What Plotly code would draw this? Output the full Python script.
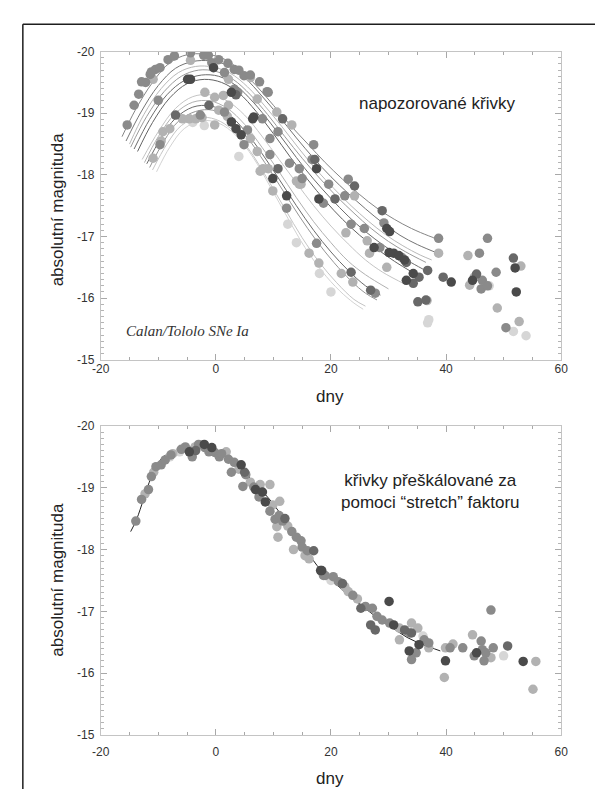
import plotly.graph_objects as go

W, H = 603, 789

curve_x = [
    [-16.3, -14, -11, -8, -5, -2, 1, 4, 7, 10, 13, 16, 19, 22, 25, 28, 31, 34, 37, 38.8],
    [-15.6, -13, -10, -7, -4, -1, 2, 5, 8, 11, 14, 17, 20, 23, 26, 29, 32, 35, 38.8],
    [-15, -12.5, -9.5, -6.5, -3.5, -0.5, 2.5, 5.5, 8.5, 11.5, 14.5, 17.5, 20.5, 23.5, 26.5, 29.5, 32.5, 35.5, 37.5],
    [-14.8, -12, -9, -6, -3, 0, 3, 6, 9, 12, 15, 18, 21, 24, 27, 30, 33, 36.5],
    [-14.2, -11.5, -8.5, -5.5, -2.5, 0.5, 3.5, 6.5, 9.5, 12.5, 15.5, 18.5, 21.5, 24.5, 27.5, 30.5, 33.5, 36],
    [-13.6, -11, -8, -5, -2, 1, 4, 7, 10, 13, 16, 19, 22, 25, 28, 31, 34.5],
    [-12.8, -10, -7, -4, -1, 2, 5, 8, 11, 14, 17, 20, 23, 26, 29, 33],
    [-12.4, -10, -7, -4, -1, 2, 5, 8, 11, 14, 17, 20, 23, 26, 30],
    [-12, -9.5, -7, -4, -1, 2, 5, 8, 11, 14, 17, 20, 23, 26, 28.6],
    [-11.5, -9, -6.5, -3.5, -0.5, 2.5, 5.5, 8.5, 11.5, 14.5, 17.5, 20.5, 23.5, 26, 28],
    [-11, -8.5, -6, -3, 0, 3, 6, 9, 12, 15, 18, 21, 24, 26],
    [-10.3, -8, -5.5, -2.5, 0.5, 3.5, 6.5, 9.5, 12.5, 15.5, 18.5, 21.5, 24, 25.6],
]
curve_y = [
    [-18.62, -19.05, -19.5, -19.82, -19.95, -19.96, -19.9, -19.72, -19.45, -19.13, -18.8, -18.5, -18.2, -17.93, -17.68, -17.46, -17.28, -17.13, -17.01, -16.95],
    [-18.55, -19.02, -19.45, -19.73, -19.84, -19.85, -19.78, -19.58, -19.28, -18.95, -18.6, -18.27, -17.97, -17.7, -17.45, -17.22, -17.02, -16.87, -16.72],
    [-18.5, -18.98, -19.4, -19.66, -19.76, -19.75, -19.65, -19.43, -19.12, -18.78, -18.42, -18.08, -17.78, -17.5, -17.25, -17.03, -16.85, -16.7, -16.62],
    [-18.45, -18.95, -19.35, -19.6, -19.7, -19.68, -19.55, -19.3, -18.98, -18.62, -18.27, -17.95, -17.65, -17.38, -17.13, -16.92, -16.75, -16.58],
    [-18.42, -18.9, -19.3, -19.53, -19.62, -19.6, -19.45, -19.18, -18.84, -18.47, -18.1, -17.77, -17.47, -17.2, -16.97, -16.77, -16.6, -16.47],
    [-18.38, -18.85, -19.25, -19.48, -19.55, -19.5, -19.33, -19.03, -18.67, -18.28, -17.92, -17.58, -17.28, -17.02, -16.8, -16.6, -16.4],
    [-18.25, -18.7, -19.08, -19.27, -19.3, -19.2, -18.97, -18.63, -18.25, -17.87, -17.5, -17.17, -16.88, -16.62, -16.42, -16.22],
    [-18.2, -18.62, -19.0, -19.18, -19.2, -19.08, -18.82, -18.45, -18.05, -17.63, -17.24, -16.9, -16.6, -16.38, -16.15],
    [-18.18, -18.6, -18.92, -19.1, -19.12, -19.0, -18.72, -18.35, -17.93, -17.5, -17.1, -16.75, -16.45, -16.2, -16.05],
    [-18.12, -18.55, -18.87, -19.03, -19.05, -18.9, -18.6, -18.2, -17.77, -17.33, -16.93, -16.58, -16.28, -16.08, -15.97],
    [-18.08, -18.5, -18.8, -18.93, -18.9, -18.72, -18.38, -17.93, -17.45, -16.98, -16.58, -16.25, -15.98, -15.87],
    [-18.05, -18.45, -18.75, -18.88, -18.84, -18.64, -18.28, -17.8, -17.3, -16.82, -16.43, -16.12, -15.92, -15.82],
]
curve_colors = ["#858585", "#747474", "#b8b8b8", "#9a9a9a", "#6c6c6c", "#626262",
                "#c4c4c4", "#b0b0b0", "#6a6a6a", "#959595", "#c4c4c4", "#d2d2d2"]

# observed points, top panel, grouped by grey shade
top_dark_x = [-4.9, -4.4, -0.4, 2.7, 2.7, 3.5, 4.4, 6.4, 6.6, 9.9, 12.3, 17.5, 17.9, 27.5, 29.7, 30.2, 30.1, 30.9, 31.8, 32.8, 34.3, 33.1, 40.9, 44.6, 52.2, 52.0]
top_dark_y = [-19.55, -19.55, -19.74, -19.34, -18.86, -18.75, -18.65, -18.91, -18.94, -17.94, -17.66, -18.1, -17.61, -16.82, -17.13, -17.08, -16.74, -16.73, -16.69, -16.62, -16.4, -16.29, -16.26, -16.29, -16.1, -16.49]

top_mdark_x = [-1.2, -7.0, 3.5, 23.5, 26.9, 35.3, 34.3, 36.8, 10.8, 11.6, 17.2, 20.7, 24.1, 28.9, 33.1, 35.1, 36.5, 39.5, 45.3, 51.7]
top_mdark_y = [-19.13, -18.97, -19.3, -16.42, -16.13, -16.34, -16.24, -16.45, -18.1, -18.91, -18.25, -17.61, -17.82, -17.42, -16.58, -15.94, -15.97, -16.34, -16.39, -16.65]

top_mid_x = [-15.4, -14.2, -13.4, -12.2, -11.4, -10.5, -9.7, -8.3, -7.2, -4.4, -2.1, -1.3, -0.7, 0.5, 1.5, 3.2, 3.8, 3.2, 4.0, 4.9,
             -10.0, -9.7, -2.7, 1.5, 5.5, 8.1, 9.4, 9.1, 10.8, 9.4, 14.5, 15.0, 17.0, 16.7, 19.6, 4.9, 12.3, 12.8, 18.7, 22.4,
             23.0, 25.8, 23.5, 28.5, 29.2, 32.3, 27.7, 38.7, 46.3, 46.1, 47.2, 47.2, 48.7, 50.4, 45.8, 17.5, -12.9, -11.2, 7.6, 8.9,
             6.0, 2.1]
top_mid_y = [-18.81, -19.13, -19.31, -19.5, -19.63, -19.71, -19.74, -19.87, -19.93, -19.98, -19.94, -19.94, -19.82, -19.87, -19.66, -19.39, -19.34, -19.71, -19.7, -19.61,
             -19.21, -18.49, -18.97, -19.02, -18.73, -18.91, -18.59, -19.34, -18.7, -18.33, -18.1, -17.94, -18.49, -18.25, -17.85, -18.49, -17.46, -18.19, -17.54, -17.66,
             -17.93, -17.13, -17.2, -16.82, -17.22, -16.66, -16.08, -16.97, -16.29, -16.15, -16.2, -16.97, -16.42, -15.52, -16.73, -16.89, -19.51, -19.67, -19.51, -19.35,
             -19.62, -19.81]

top_light_x = [-10.9, -9.2, -10.9, -5.8, -4.6, -3.5, -2.4, -1.9, -0.2, 0.5, 1.3, 2.2, 2.2, 6.0, 6.0, 7.2, 10.6, 13.2, 7.7, 9.1,
               14.5, -0.2, 7.2, 8.2, 9.9, 14.0, 14.8, 24.1, 16.2, 17.9, 21.8, 23.8, 26.3, 22.6, 26.7, 29.7, 38.7, 43.8, 44.9, 44.1,
               48.9, 52.7, 53.0, 36.7, -4.4, -8.0, -9.5, 2.0]
top_light_y = [-19.55, -18.7, -18.27, -18.91, -18.91, -18.91, -18.93, -19.34, -19.26, -19.05, -19.29, -19.13, -19.55, -19.58, -18.59, -19.23, -19.02, -18.81, -18.06, -18.1,
               -17.85, -18.81, -18.38, -18.1, -17.74, -17.9, -17.85, -17.66, -16.73, -16.57, -16.4, -16.26, -16.93, -17.06, -16.73, -16.5, -16.73, -16.69, -16.34, -16.21,
               -15.84, -15.62, -16.52, -15.96, -19.86, -18.75, -18.55, -18.95]

top_vlight_x = [37.0, 51.7, 53.9, 36.8, 14.0, 12.5, 47.5, -2.0, -4.0, 4.0, 18.0, 20.0]
top_vlight_y = [-15.65, -15.46, -15.39, -15.6, -16.9, -17.2, -16.2, -18.8, -18.85, -18.3, -16.4, -16.1]

# ---------------- bottom panel: stretch-corrected template and points ----------------
tmpl_x = [-14.8, -13.8, -12.5, -11.6, -10.3, -9.0, -7.0, -5.1, -3.1, -0.5, 2.1, 4.7, 7.3, 9.9, 12.4, 15.0, 17.6, 20.2, 22.8, 25.4, 28.0, 30.6, 33.2, 35.8, 39.0]
tmpl_y = [-18.29, -18.48, -18.83, -19.08, -19.35, -19.51, -19.59, -19.65, -19.66, -19.62, -19.48, -19.27, -19.02, -18.75, -18.42, -18.1, -17.74, -17.5, -17.28, -17.09, -16.9, -16.74, -16.58, -16.47, -16.36]

bot_dark_x = [-4.6, -0.7, 4.4, 6.9, 8.1, 8.6, 18.2, 18.4, 30.1, 30.9, 33.6, 35.3, 39.9, 45.3, 53.4, -2.0]
bot_dark_y = [-19.58, -19.65, -19.37, -18.97, -18.93, -18.77, -17.66, -17.66, -17.16, -16.78, -16.36, -16.46, -16.2, -16.33, -16.19, -19.7]

bot_mdark_x = [17.0, 25.2, 26.9, 27.7, 32.8, 50.7, 5.0, -3.5, 12.0, 22.0, 34.0]
bot_mdark_y = [-17.98, -17.05, -16.78, -16.7, -16.7, -16.44, -19.25, -19.6, -18.5, -17.45, -16.65]

bot_mid_x = [-13.9, -12.9, -11.7, -11.2, -10.4, -9.5, -7.8, -5.3, -4.1, -1.9, -1.2, -0.2, 0.6, 2.2, 2.7, 3.2, 5.2, 4.7, 6.6, 9.4,
             10.3, 11.6, 13.2, 14.0, 14.8, 15.0, 15.9, 18.7, 19.0, 20.4, 21.3, 23.8, 26.0, 27.2, 28.0, 28.9, 30.2, 33.6, 34.8, 34.0,
             36.2, 37.0, 40.7, 42.9, 44.9, 46.1, 46.3, 46.9, 46.6, 48.2, 47.8, -3.0, 1.0, 7.5, 11.0, -6.0, -8.8]
bot_mid_y = [-18.46, -18.81, -18.97, -19.18, -19.34, -19.37, -19.53, -19.66, -19.5, -19.65, -19.58, -19.57, -19.5, -19.46, -19.25, -19.41, -19.21, -19.02, -19.01, -18.62,
             -18.49, -18.46, -18.29, -18.2, -18.14, -18.04, -17.98, -17.58, -17.58, -17.56, -17.48, -17.26, -17.08, -17.05, -16.92, -16.86, -16.81, -16.65, -16.33, -16.22,
             -16.54, -16.49, -16.41, -16.41, -16.28, -16.52, -16.38, -16.33, -16.2, -16.41, -17.02, -19.7, -19.55, -18.85, -18.55, -19.62, -19.45]

bot_light_x = [-12.3, -10.8, -7.5, -3.6, -2.4, 1.8, 4.0, 6.0, 7.7, 9.4, 9.9, 11.1, 10.6, 12.5, 16.2, 15.5, 22.4, 23.0, 24.6, 31.9,
               34.0, 35.1, 31.9, 37.0, 39.9, 41.2, 39.7, 44.6, 47.8, 55.6, 55.1, 13.5, 10.8]
bot_light_y = [-18.9, -19.25, -19.55, -19.66, -19.69, -19.58, -19.3, -19.09, -19.05, -19.05, -18.72, -18.78, -18.37, -18.38, -17.85, -17.9, -17.4, -17.32, -17.2, -16.73,
               -16.81, -16.73, -16.54, -16.41, -16.41, -16.47, -15.93, -16.62, -16.25, -16.19, -15.74, -18.0, -18.2]

bot_vlight_x = [-6.3, 50.0, 20.0, 36.0, -8.0]
bot_vlight_y = [-19.58, -16.28, -17.5, -16.6, -19.5]

x_ticks = [-20, 0, 20, 40, 60]
x_ticktext = ["-20", "0", "20", "40", "60"]
y_ticks = [-20, -19, -18, -17, -16, -15]
y_ticktext = ["-20", "-19", "-18", "-17", "-16", "-15"]

shades = ["#4a4a4a", "#686868", "#8a8a8a", "#b2b2b2", "#d6d6d6"]
MS = 9.5

fig = go.Figure()

for cx, cy, cc in zip(curve_x, curve_y, curve_colors):
    fig.add_trace(go.Scatter(x=cx, y=cy, mode="lines", line=dict(color=cc, width=1, shape="spline"),
                             xaxis="x", yaxis="y", hoverinfo="skip"))

top_groups = [(top_vlight_x, top_vlight_y, shades[4]), (top_light_x, top_light_y, shades[3]),
              (top_mid_x, top_mid_y, shades[2]), (top_mdark_x, top_mdark_y, shades[1]),
              (top_dark_x, top_dark_y, shades[0])]
for gx, gy, gc in top_groups:
    fig.add_trace(go.Scatter(x=gx, y=gy, mode="markers", marker=dict(color=gc, size=MS, line=dict(width=0)),
                             xaxis="x", yaxis="y"))

bot_groups = [(bot_vlight_x, bot_vlight_y, shades[4]), (bot_light_x, bot_light_y, shades[3]),
              (bot_mid_x, bot_mid_y, shades[2]), (bot_mdark_x, bot_mdark_y, shades[1]),
              (bot_dark_x, bot_dark_y, shades[0])]
fig.add_trace(go.Scatter(x=tmpl_x, y=tmpl_y, mode="lines", line=dict(color="#222222", width=1, shape="spline"),
                         xaxis="x2", yaxis="y2"))
for gx, gy, gc in bot_groups:
    fig.add_trace(go.Scatter(x=gx, y=gy, mode="markers", marker=dict(color=gc, size=MS, line=dict(width=0)),
                             xaxis="x2", yaxis="y2"))


def xax(dom, anchor, standoff):
    return dict(domain=dom, anchor=anchor, range=[-20, 60], tickmode="array", tickvals=x_ticks, ticktext=x_ticktext,
                ticks="inside", ticklen=6, tickcolor="#a8a8a8", tickwidth=1, showline=True, linecolor="#c4c4c4",
                linewidth=1, mirror="ticks", showgrid=False, zeroline=False,
                tickfont=dict(family="Liberation Sans", size=12, color="#333333"), ticklabelstandoff=standoff,
                minor=dict(tickmode="linear", tick0=-20, dtick=5, ticks="inside", ticklen=3, tickcolor="#a8a8a8",
                           showgrid=False))


def yax(dom, anchor):
    return dict(domain=dom, anchor=anchor, range=[-15, -20], tickmode="array", tickvals=y_ticks, ticktext=y_ticktext,
                ticks="inside", ticklen=6, tickcolor="#a8a8a8", tickwidth=1, showline=True, linecolor="#c4c4c4",
                linewidth=1, mirror="ticks", showgrid=False, zeroline=False,
                tickfont=dict(family="Liberation Sans", size=12, color="#333333"), ticklabelstandoff=3,
                minor=dict(tickmode="linear", tick0=-20, dtick=0.1, ticks="inside", ticklen=3, tickcolor="#b4b4b4",
                           showgrid=False))


xd = [86 / W, 559 / W]
fig.update_layout(
    width=W, height=H, margin=dict(l=0, r=0, t=0, b=0), autosize=False,
    paper_bgcolor="white", plot_bgcolor="white", showlegend=False,
    xaxis=xax(xd, "y", -2), yaxis=yax([1 - 351 / H, 1 - 37.3 / H], "x"),
    xaxis2=xax(xd, "y2", 6), yaxis2=yax([1 - 733 / H, 1 - 418.3 / H], "x2"),
)

TF = "Liberation Sans"
ann = [
    dict(text="napozorované křivky", x=431 / W, y=1 - 90 / H, font=dict(family=TF, size=17, color="#222")),
    dict(text="křivky přeškálované za<br>pomoci “stretch” faktoru", x=425 / W, y=1 - 485 / H,
         font=dict(family=TF, size=17, color="#222")),
    dict(text="<i>Calan/Tololo SNe Ia</i>", x=175 / W, y=1 - 322 / H,
         font=dict(family="Liberation Serif", size=15, color="#333")),
    dict(text="dny", x=322 / W, y=1 - 388 / H, font=dict(family=TF, size=17, color="#222")),
    dict(text="dny", x=322 / W, y=1 - 777 / H, font=dict(family=TF, size=17, color="#222")),
    dict(text="absolutní magnituda", x=42 / W, y=1 - 198 / H, textangle=-90,
         font=dict(family=TF, size=17, color="#222")),
    dict(text="absolutní magnituda", x=42 / W, y=1 - 575 / H, textangle=-90,
         font=dict(family=TF, size=17, color="#222")),
]
for a in ann:
    a.update(xref="paper", yref="paper", showarrow=False, xanchor="center", yanchor="middle")
fig.update_layout(annotations=ann)

fig.update_layout(shapes=[
    dict(type="line", xref="paper", yref="paper", x0=6 / W, x1=1.0, y0=1 - 9.5 / H, y1=1 - 9.5 / H,
         line=dict(color="#1e1e1e", width=1.5)),
    dict(type="line", xref="paper", yref="paper", x0=6 / W, x1=6 / W, y0=0, y1=1 - 9.5 / H,
         line=dict(color="#1e1e1e", width=1.5)),
])

fig.write_html("out.html")
